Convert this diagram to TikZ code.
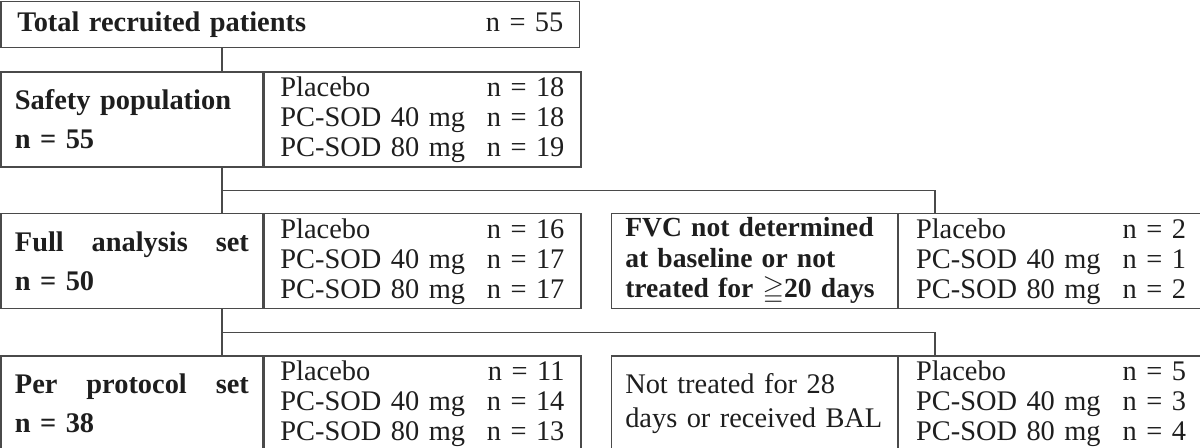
\documentclass[tikz,border=0pt]{standalone}
\usepackage{fontspec}
\setmainfont{Liberation Serif}
\usepackage{amssymb}
\usepackage{xcolor}
\usepackage{tikz}
\usetikzlibrary{positioning,calc}
\definecolor{rule}{HTML}{4A4A4A}
\definecolor{ink}{HTML}{1E1E1E}
\newcommand{\chartfont}{\fontsize{14.2pt}{15pt}\selectfont}
\newcommand{\grp}[2]{\makebox[\linewidth][l]{#1\hfill n = #2}}
\tikzset{
  cell/.style={rectangle, draw=rule, line width=0.65pt, inner sep=0pt, text=ink,
               minimum height=47.5pt, align=left, font=\chartfont},
  namecell/.style={cell, minimum width=130.75pt, text width=117pt, font=\chartfont\bfseries},
  armcell/.style={cell, minimum width=158.5pt, text width=142pt},
  dropcell/.style={cell, minimum width=143pt, text width=129pt},
  droparms/.style={cell, minimum width=152.5pt, text width=135pt},
  link/.style={draw=rule, line width=0.65pt},
}

\begin{document}
\begin{tikzpicture}
\useasboundingbox (0,0) rectangle (600pt,-224pt);
\node[cell, minimum width=289.25pt, minimum height=23pt, text width=273pt, anchor=north west] (total)
 at (0.25pt,-0.5pt) {\textbf{Total recruited patients}\hfill n = 55};

\node[namecell, below right=11.5pt and 0pt of total.south west] (safety)
 {Safety population\\[4.5pt] n = 55};
\node[armcell, right=0pt of safety] (safetyarms)
 {\grp{Placebo}{18}\\ \grp{PC-SOD 40 mg}{18}\\ \grp{PC-SOD 80 mg}{19}};

\node[namecell, below right=22.75pt and 0pt of safety.south west] (full)
 {\makebox[117pt][l]{Full\hfill analysis\hfill set}\\[4.5pt] n = 50};
\node[armcell, right=0pt of full] (fullarms)
 {\grp{Placebo}{16}\\ \grp{PC-SOD 40 mg}{17}\\ \grp{PC-SOD 80 mg}{17}};

\node[dropcell, font=\fontsize{13.8pt}{15.2pt}\selectfont\bfseries, right=14.5pt of fullarms] (fvc)
 {FVC not determined\\ at baseline or not\\ treated for $\geqq$20 days};
\node[droparms, right=0pt of fvc] (fvcarms)
 {\grp{Placebo}{2}\\ \grp{PC-SOD 40 mg}{1}\\ \grp{PC-SOD 80 mg}{2}};

\node[namecell, below right=23pt and 0pt of full.south west] (per)
 {\makebox[117pt][l]{Per\hfill protocol\hfill set}\\[4.5pt] n = 38};
\node[armcell, right=0pt of per] (perarms)
 {\grp{Placebo}{11}\\ \grp{PC-SOD 40 mg}{14}\\ \grp{PC-SOD 80 mg}{13}};

\node[dropcell, font=\fontsize{14.2pt}{17pt}\selectfont, right=14.5pt of perarms] (late)
 {Not treated for 28\\ days or received BAL};
\node[droparms, right=0pt of late] (latearms)
 {\grp{Placebo}{5}\\ \grp{PC-SOD 40 mg}{3}\\ \grp{PC-SOD 80 mg}{4}};

\coordinate (trunk) at (111pt,0);
\coordinate (side) at (467.5pt,0);
\coordinate (split1) at ($(safety.south -| trunk)!0.5!(full.north -| trunk)$);
\coordinate (split2) at ($(full.south -| trunk)!0.5!(per.north -| trunk)$);

\draw[link] (total.south -| trunk) -- (safety.north -| trunk);
\draw[link] (safety.south -| trunk) -- (full.north -| trunk);
\draw[link] (split1) -| (fvc.north -| side);
\draw[link] (full.south -| trunk) -- (per.north -| trunk);
\draw[link] (split2) -| (late.north -| side);
\end{tikzpicture}
\end{document}
